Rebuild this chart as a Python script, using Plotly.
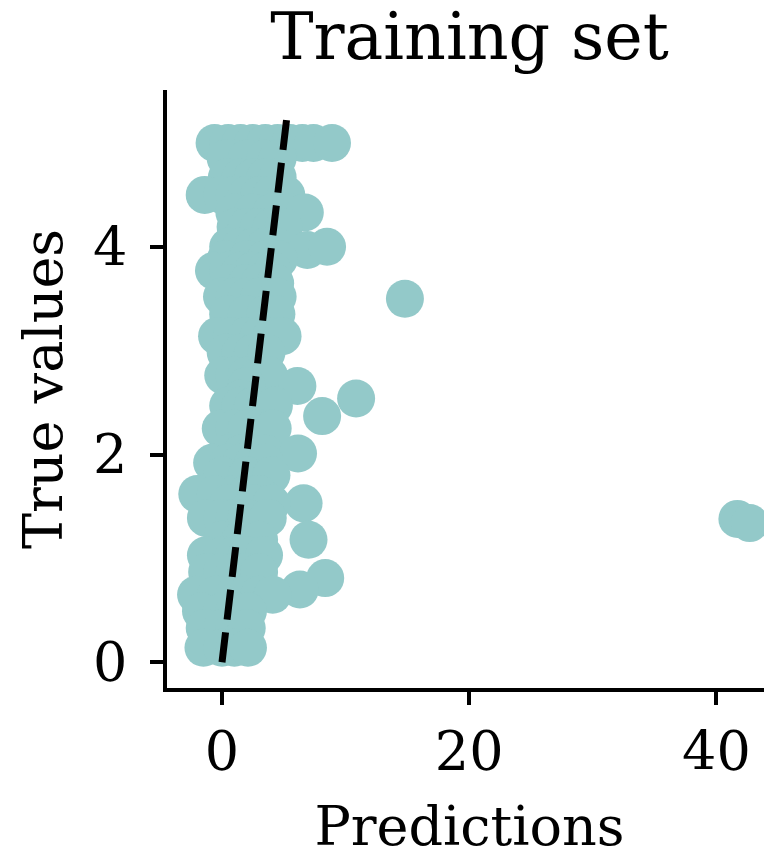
import plotly.graph_objects as go

# --- Data ---
PRED = [
    -0.6, 0.5, 1.5, 2.5, 3.5, 4.5, 5.5, 6.5, 7.4, 8.9,
    0.3, 2.0, 3.5, 4.5,
    0.4, 1.5, 2.5, 3.5, 4.5,
    -1.4, 0.0, 1.0, 2.0, 3.0, 4.0, 5.2,
    1.0, 2.5, 4.0, 5.5, 6.7,
    1.1, 2.0, 3.0, 4.0, 5.0,
    0.5, 1.5, 2.5, 3.5, 4.5, 6.9, 8.5,
    0.3, 2.0, 3.5, 4.6,
    -0.65, 0.5, 1.5, 2.5, 3.5, 4.1,
    0.5, 2.0, 3.0, 4.3,
    0.0, 1.0, 2.0, 3.0, 4.5, 14.8,
    0.5, 2.0, 3.5, 4.4,
    -0.4, 0.8, 2.0, 3.0, 4.0, 4.9,
    0.3, 1.5, 2.5, 3.6,
    0.1, 1.0, 2.0, 3.0, 3.8,
    2.0, 6.1,
    1.5, 10.85,
    0.5, 1.5, 2.5, 3.5, 4.2,
    8.1,
    -0.1, 1.0, 2.0, 3.0, 4.1,
    0.5, 1.5, 2.5, 3.5, 6.15,
    -0.8, 0.5, 1.5, 2.5, 3.5,
    0.0, 2.0, 4.0,
    -2.0, -0.5, 1.0, 2.0, 3.0, 6.6,
    0.5, 2.5, 4.0,
    -1.3, 0.0, 1.0, 2.0, 3.7, 41.7,
    42.7,
    0.0, 1.5, 3.0, 7.0,
    -1.3, 0.0, 1.0, 2.0, 3.4,
    -1.2, 0.0, 1.0, 2.0, 3.0,
    8.35,
    6.3,
    -2.1, -0.5, 1.0, 2.0, 3.0, 4.1,
    -1.7, 0.0, 1.0, 2.1,
    -1.4, 0.0, 1.0, 2.0,
    -1.5, 0.0, 1.0, 2.1,
]
TRUE = [
    5.0, 5.0, 5.0, 5.0, 5.0, 5.0, 5.0, 5.0, 5.0, 5.0,
    4.85, 4.85, 4.85, 4.85,
    4.67, 4.67, 4.67, 4.67, 4.67,
    4.5, 4.5, 4.5, 4.5, 4.5, 4.5, 4.5,
    4.33, 4.33, 4.33, 4.33, 4.33,
    4.19, 4.19, 4.19, 4.19, 4.19,
    4.0, 4.0, 4.0, 4.0, 4.0, 3.97, 4.0,
    3.88, 3.88, 3.88, 3.88,
    3.77, 3.77, 3.77, 3.77, 3.77, 3.77,
    3.65, 3.65, 3.65, 3.65,
    3.52, 3.52, 3.52, 3.52, 3.52, 3.5,
    3.35, 3.35, 3.35, 3.35,
    3.14, 3.14, 3.14, 3.14, 3.14, 3.14,
    2.98, 2.98, 2.98, 2.98,
    2.76, 2.76, 2.76, 2.76, 2.76,
    2.66, 2.66,
    2.54, 2.54,
    2.47, 2.47, 2.47, 2.47, 2.47,
    2.37,
    2.25, 2.25, 2.25, 2.25, 2.25,
    2.01, 2.01, 2.01, 2.01, 2.01,
    1.92, 1.92, 1.92, 1.92, 1.92,
    1.8, 1.8, 1.8,
    1.62, 1.62, 1.62, 1.62, 1.62, 1.53,
    1.53, 1.53, 1.53,
    1.39, 1.39, 1.39, 1.39, 1.39, 1.38,
    1.34,
    1.18, 1.18, 1.18, 1.18,
    1.03, 1.03, 1.03, 1.03, 1.03,
    0.87, 0.87, 0.87, 0.87, 0.87,
    0.81,
    0.70,
    0.65, 0.65, 0.65, 0.65, 0.65, 0.65,
    0.49, 0.49, 0.49, 0.49,
    0.33, 0.33, 0.33, 0.33,
    0.14, 0.14, 0.14, 0.14,
]

# identity reference line
LINE_X = [0.0, 5.22]
LINE_Y = [0.0, 5.22]

X_TICKS = [0, 20, 40]
Y_TICKS = [0, 2, 4]

FONT = "DejaVu Serif"
POINT_COLOR = "#93C9C9"

fig = go.Figure()
fig.add_trace(go.Scatter(
    x=PRED,
    y=TRUE,
    mode="markers",
    marker=dict(size=38, color=POINT_COLOR, line=dict(width=0)),
    cliponaxis=False,
    showlegend=False,
))
fig.add_trace(go.Scatter(
    x=LINE_X,
    y=LINE_Y,
    mode="lines",
    line=dict(color="black", width=7, dash="30px,13px"),
    showlegend=False,
))

axis_style = dict(
    showline=True,
    linecolor="black",
    linewidth=3.5,
    showgrid=False,
    zeroline=False,
    ticks="outside",
    ticklen=13,
    tickwidth=3.5,
    tickcolor="black",
    tickfont=dict(family=FONT, size=54, color="black"),
    mirror=False,
)

# the page body adds an 8px margin, so the figure is 8px smaller than the window
fig.update_layout(
    width=764,
    height=850,
    margin=dict(l=159, r=0, t=82, b=163),
    paper_bgcolor="white",
    plot_bgcolor="white",
    font=dict(family=FONT, color="black"),
    title=dict(
        text="Training set",
        font=dict(family=FONT, size=65, color="black"),
        x=0.5,
        xref="paper",
        xanchor="center",
        y=1 - 28 / 850,
        yref="container",
        yanchor="middle",
    ),
    xaxis=dict(
        axis_style,
        range=[-4.45, 44.5],
        tickvals=X_TICKS,
        ticklabelstandoff=0,
        title=dict(text="Predictions", font=dict(family=FONT, size=54), standoff=38),
    ),
    yaxis=dict(
        axis_style,
        range=[-0.248, 5.51],
        tickvals=Y_TICKS,
        ticklabelstandoff=12,
        title=dict(text="True values", font=dict(family=FONT, size=54), standoff=14),
    ),
)

fig.write_html("out.html")
